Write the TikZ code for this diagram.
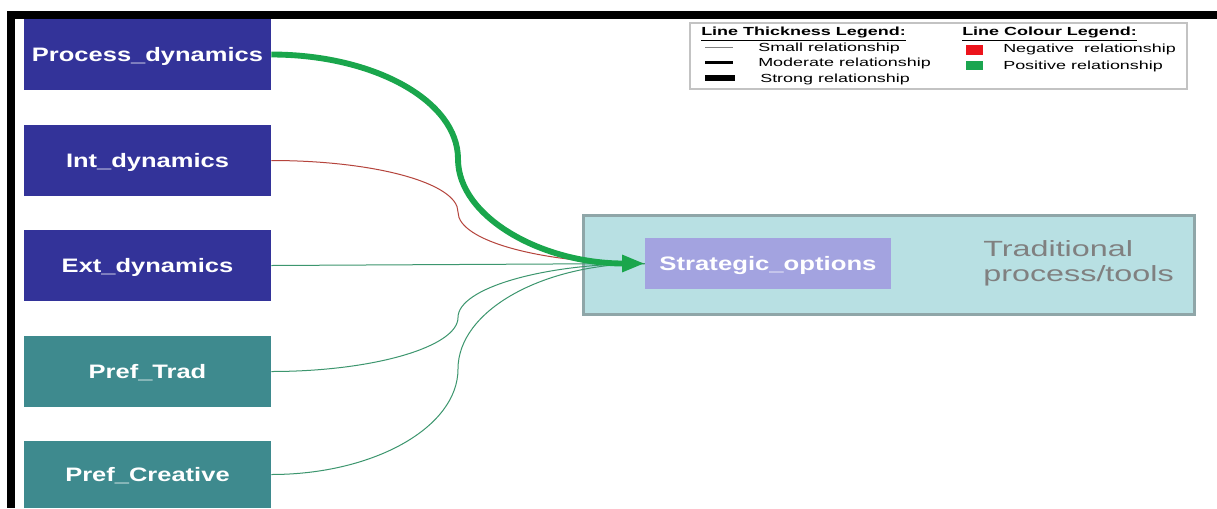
\documentclass[tikz,border=0pt]{standalone}
\usepackage{fontspec}
\setmainfont{Liberation Sans}
\usetikzlibrary{arrows.meta,calc}
\definecolor{darkblue}{RGB}{51,51,153}
\definecolor{tealbox}{RGB}{62,138,142}
\definecolor{lilac}{RGB}{163,163,224}
\definecolor{paleteal}{RGB}{184,224,227}
\definecolor{boxborder}{RGB}{143,166,168}
\definecolor{posgreen}{RGB}{26,166,76}
\definecolor{thingreen}{RGB}{60,150,110}
\definecolor{negred}{RGB}{181,68,60}
\definecolor{legred}{RGB}{236,20,28}
\definecolor{leggreen}{RGB}{27,165,80}
\definecolor{leggray}{RGB}{195,195,195}
\definecolor{txtgray}{RGB}{128,128,128}
\newcommand{\wide}[2]{\scalebox{#1}[1]{#2}}
\begin{document}
\begin{tikzpicture}[x=0.75pt,y=-0.75pt,
  varbox/.style={rectangle, draw=none, minimum width=185.25pt, minimum height=53.25pt, inner sep=0pt, text depth=0pt, text=white, font=\fontsize{14.6pt}{16pt}\selectfont\bfseries},
  legtext/.style={anchor=west, inner sep=0pt, font=\fontsize{8.8pt}{10pt}\selectfont},
  legtitle/.style={anchor=west, inner sep=0pt, font=\fontsize{8.8pt}{10pt}\selectfont\bfseries},
  thinlink/.style={line width=0.75pt},
  stronglink/.style={posgreen, line width=4.4pt, -{Triangle[length=17pt,width=12pt]}}
]
\useasboundingbox (0,0) rectangle (1217,508);
\fill[white] (0,0) rectangle (1217,508);
% frame
\fill[black] (7,11) rectangle (1217,19);
\fill[black] (7,11) rectangle (15,508);
% variable boxes
\node[varbox, fill=darkblue] (pd) at (147.5,54.5) {\wide{1.31}{Process\_dynamics}};
\node[varbox, fill=darkblue] (id) at (147.5,160.5) {\wide{1.31}{Int\_dynamics}};
\node[varbox, fill=darkblue] (ed) at (147.5,265.5) {\wide{1.31}{Ext\_dynamics}};
\node[varbox, fill=tealbox] (pt) at (147.5,371.5) {\wide{1.31}{Pref\_Trad}};
\node[varbox, fill=tealbox, minimum height=50.25pt] (pc) at (147.5,474.5) {\wide{1.31}{Pref\_Creative}};
% target group
\node[draw=boxborder, line width=2.25pt, fill=paleteal, minimum width=458.25pt, minimum height=74.25pt, inner sep=0pt] (tt) at (889,265) {};
\node[fill=lilac, minimum width=184.5pt, minimum height=38.25pt, inner sep=0pt, text depth=0pt, text=white, font=\fontsize{14.6pt}{16pt}\selectfont\bfseries] (so) at (768,263.5) {\wide{1.32}{Strategic\_options}};
\node[anchor=west, align=left, inner sep=0pt, text=txtgray, font=\fontsize{16.5pt}{19pt}\selectfont] (trad) at (983,263.5) {\wide{1.47}{Traditional}\\\wide{1.47}{process/tools}};
% midpoints
\coordinate (m1) at ($(pd.east)!0.5!(so.west)$);
\coordinate (m2) at ($(id.east)!0.5!(so.west)$);
\coordinate (m4) at ($(pt.east)!0.5!(so.west)$);
\coordinate (m5) at ($(pc.east)!0.5!(so.west)$);
% connectors
\draw[thinlink, negred] (id.east) .. controls +(103,0) and +(0,-29) .. (m2) .. controls +(0,29) and +(-103,0) .. (so.west);
\draw[thinlink, thingreen] (ed.east) -- (so.west);
\draw[thinlink, thingreen] (pt.east) .. controls +(103,0) and +(0,29) .. (m4) .. controls +(0,-29) and +(-103,0) .. (so.west);
\draw[thinlink, thingreen] (pc.east) .. controls +(103,0) and +(0,58) .. (m5) .. controls +(0,-58) and +(-103,0) .. (so.west);
\draw[stronglink] (pd.east) .. controls +(103,0) and +(0,-58) .. (m1) .. controls +(0,58) and +(-103,0) .. (so.west);
% legend
\node[draw=leggray, line width=1.5pt, minimum width=372.75pt, minimum height=49.5pt, inner sep=0pt] (leg) at (938.5,55.5) {};
\node[legtitle] (lth) at (701,34) {\wide{1.53}{\underline{Line Thickness Legend:}}};
\coordinate (s1a) at (705,47.5); \coordinate (s1b) at (733,47.5);
\coordinate (s2a) at (705,62.5); \coordinate (s2b) at (733,62.5);
\coordinate (s3a) at (705,78); \coordinate (s3b) at (735,78);
\draw[gray, line width=0.75pt] (s1a) -- (s1b);
\draw[black, line width=2.5pt] (s2a) -- (s2b);
\draw[black, line width=5pt] (s3a) -- (s3b);
\node[legtext] (lsm) at (758,48.5) {\wide{1.53}{Small relationship}};
\node[legtext] (lmo) at (758,63.5) {\wide{1.53}{Moderate relationship}};
\node[legtext] (lst) at (760,79) {\wide{1.53}{Strong relationship}};
\node[legtitle] (lco) at (962,34) {\wide{1.53}{\underline{Line Colour Legend:}}};
\fill[legred] (966,45) rectangle (983,55);
\fill[leggreen] (966,61) rectangle (983,70);
\node[legtext] (lneg) at (1003,49.5) {\wide{1.53}{Negative\ \ relationship}};
\node[legtext] (lpos) at (1003,66) {\wide{1.53}{Positive relationship}};
\end{tikzpicture}
\end{document}
